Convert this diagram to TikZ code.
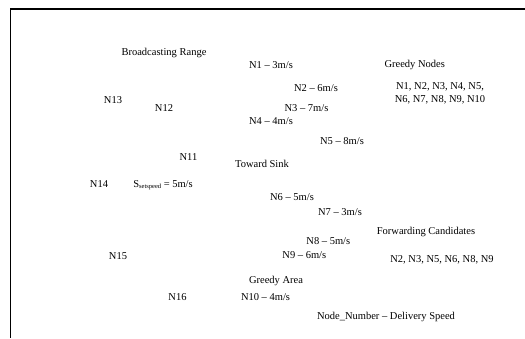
\documentclass[tikz,border=0pt]{standalone}
\usepackage{fontspec}
\setmainfont{Liberation Serif}
\usepackage{tikz}

\newcommand{\setspd}{\raisebox{-1.6pt}{\fontsize{6.5}{7}\selectfont setspeed}}

\tikzset{
  lbl/.style={inner sep=0pt,anchor=base},
  frameline/.style={draw=black,line width=1.4pt}
}

\begin{document}
\begin{tikzpicture}[x=1pt,y=-1pt,font=\fontsize{10.5}{12.7}\selectfont]
  \useasboundingbox (0,0) rectangle (525,338);

  % Frame (top and left edge)
  \draw[frameline] (525,9) -- (10.5,9) -- (10.5,338);

  % Sender side
  \node[lbl] (range) at (164,55.5) {Broadcasting Range};
  \node[lbl] (n13) at (113,103.5) {N13};
  \node[lbl] (n12) at (164,111.5) {N12};
  \node[lbl] (n11) at (188.5,160) {N11};
  \node[lbl] (n14) at (99,187) {N14};
  \node[lbl] (sspeed) at (163,187) {S\setspd{} = 5m/s};
  \node[lbl] (n15) at (118,259) {N15};
  \node[lbl] (n16) at (177.5,300.5) {N16};

  % Greedy area with delivery speeds
  \node[lbl] (n1) at (271,68.5) {N1 – 3m/s};
  \node[lbl] (n2) at (316,91) {N2 – 6m/s};
  \node[lbl] (n3) at (306.5,111) {N3 – 7m/s};
  \node[lbl] (n4) at (271,124) {N4 – 4m/s};
  \node[lbl] (n5) at (342,144) {N5 – 8m/s};
  \node[lbl] (sink) at (262,167) {Toward Sink};
  \node[lbl] (n6) at (292,200) {N6 – 5m/s};
  \node[lbl] (n7) at (340,215) {N7 – 3m/s};
  \node[lbl] (n8) at (328.3,244) {N8 – 5m/s};
  \node[lbl] (n9) at (304.3,258) {N9 – 6m/s};
  \node[lbl] (garea) at (276,283) {Greedy Area};
  \node[lbl] (n10) at (265.5,300) {N10 – 4m/s};

  % Lists on the right
  \node[lbl] (gnodes) at (414.7,67.5) {Greedy Nodes};
  \node[lbl,align=center] (glist) at (440,102.2)
    {N1, N2, N3, N4, N5,\\N6, N7, N8, N9, N10};
  \node[lbl] (fwd) at (426,234) {Forwarding Candidates};
  \node[lbl] (flist) at (442,262) {N2, N3, N5, N6, N8, N9};

  % Key
  \node[lbl] (key) at (386,319.5) {Node\_Number – Delivery Speed};
\end{tikzpicture}
\end{document}
